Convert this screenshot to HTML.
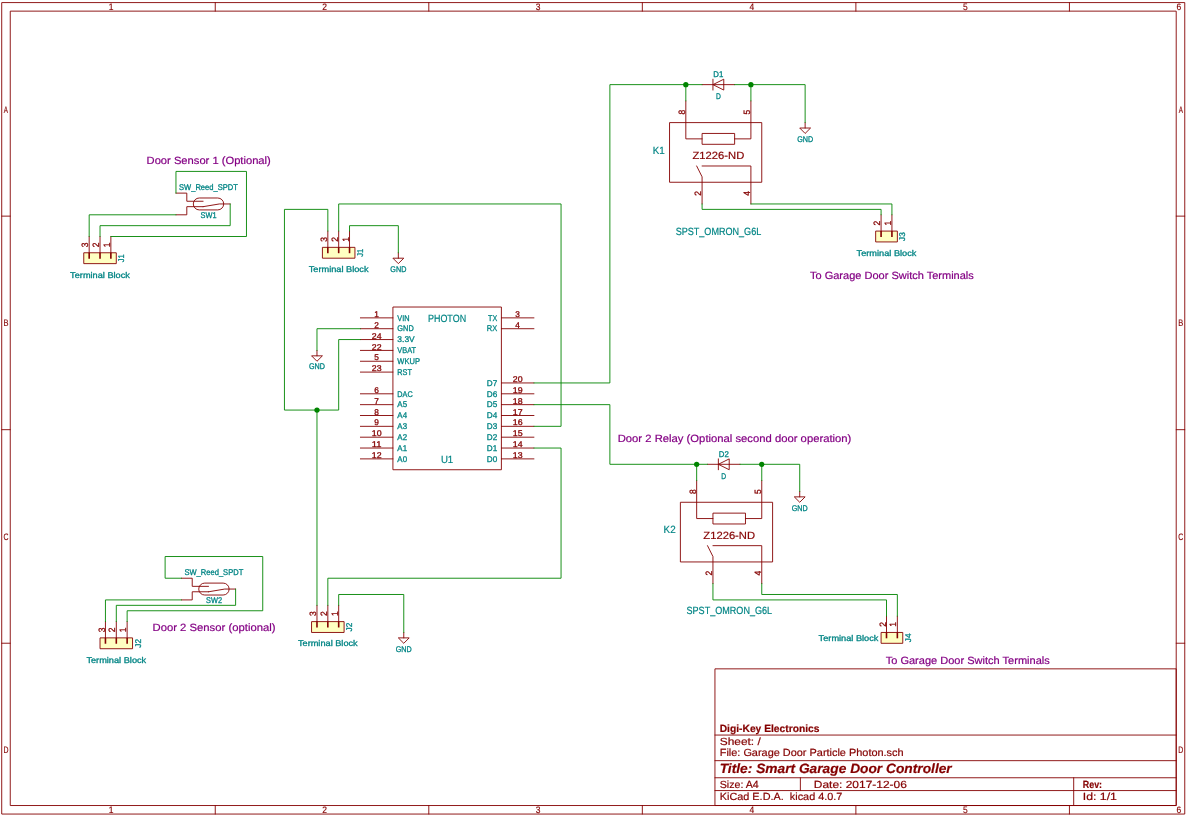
<!DOCTYPE html>
<html lang="en"><head><meta charset="utf-8"><title>Smart Garage Door Controller - schematic</title>
<style>
html,body{margin:0;padding:0;background:#fff;}
body{width:1186px;height:817px;overflow:hidden;}
svg{display:block;will-change:transform;font-family:"Liberation Sans",sans-serif;}
text{white-space:pre;stroke-linejoin:round;text-rendering:geometricPrecision}
.s{fill:none;stroke:#840000;stroke-width:0.9;stroke-linecap:round;stroke-linejoin:round}
.r{fill:none;stroke:#840000;stroke-width:0.9;stroke-linejoin:round}
.sf{fill:#ffffc2;stroke:#840000;stroke-width:0.9;stroke-linejoin:round}
.tk{fill:none;stroke:#840000;stroke-width:1.6}
.w{fill:none;stroke:#008400;stroke-width:0.9;stroke-linecap:round;stroke-linejoin:round}
.j{fill:#008400}
.b{font-weight:bold}
.bi{font-weight:bold;font-style:italic}
.i{font-style:italic}
</style></head><body>
<svg width="1186" height="817" viewBox="0 0 1186 817">
<rect width="1186" height="817" fill="#fff"/>
<g id="sheet">
<g id="frame">
<rect class="r" x="1.71" y="2.59" width="1183.04" height="811.47"/>
<rect class="r" x="10.25" y="11.13" width="1165.96" height="794.39"/>
<path class="s" d="M215.25 2.59 L215.25 11.13"/>
<path class="s" d="M215.25 805.52 L215.25 814.06"/>
<path class="s" d="M428.8 2.59 L428.8 11.13"/>
<path class="s" d="M428.8 805.52 L428.8 814.06"/>
<path class="s" d="M642.34 2.59 L642.34 11.13"/>
<path class="s" d="M642.34 805.52 L642.34 814.06"/>
<path class="s" d="M855.89 2.59 L855.89 11.13"/>
<path class="s" d="M855.89 805.52 L855.89 814.06"/>
<path class="s" d="M1069.43 2.59 L1069.43 11.13"/>
<path class="s" d="M1069.43 805.52 L1069.43 814.06"/>
<path class="s" d="M1.71 216.13 L10.25 216.13"/>
<path class="s" d="M1176.21 216.13 L1184.75 216.13"/>
<path class="s" d="M1.71 429.68 L10.25 429.68"/>
<path class="s" d="M1176.21 429.68 L1184.75 429.68"/>
<path class="s" d="M1.71 643.22 L10.25 643.22"/>
<path class="s" d="M1176.21 643.22 L1184.75 643.22"/>
<text x="108.78" y="10.04" font-size="9.38" textLength="4.73" lengthAdjust="spacingAndGlyphs" fill="#840000" stroke="#840000" stroke-width="0.15">1</text>
<text x="108.78" y="812.97" font-size="9.38" textLength="4.73" lengthAdjust="spacingAndGlyphs" fill="#840000" stroke="#840000" stroke-width="0.15">1</text>
<text x="322.33" y="10.04" font-size="9.38" textLength="4.73" lengthAdjust="spacingAndGlyphs" fill="#840000" stroke="#840000" stroke-width="0.15">2</text>
<text x="322.33" y="812.97" font-size="9.38" textLength="4.73" lengthAdjust="spacingAndGlyphs" fill="#840000" stroke="#840000" stroke-width="0.15">2</text>
<text x="535.87" y="10.04" font-size="9.38" textLength="4.73" lengthAdjust="spacingAndGlyphs" fill="#840000" stroke="#840000" stroke-width="0.15">3</text>
<text x="535.87" y="812.97" font-size="9.38" textLength="4.73" lengthAdjust="spacingAndGlyphs" fill="#840000" stroke="#840000" stroke-width="0.15">3</text>
<text x="749.42" y="10.04" font-size="9.38" textLength="4.73" lengthAdjust="spacingAndGlyphs" fill="#840000" stroke="#840000" stroke-width="0.15">4</text>
<text x="749.42" y="812.97" font-size="9.38" textLength="4.73" lengthAdjust="spacingAndGlyphs" fill="#840000" stroke="#840000" stroke-width="0.15">4</text>
<text x="962.96" y="10.04" font-size="9.38" textLength="4.73" lengthAdjust="spacingAndGlyphs" fill="#840000" stroke="#840000" stroke-width="0.15">5</text>
<text x="962.96" y="812.97" font-size="9.38" textLength="4.73" lengthAdjust="spacingAndGlyphs" fill="#840000" stroke="#840000" stroke-width="0.15">5</text>
<text x="1176.51" y="10.04" font-size="9.38" textLength="4.73" lengthAdjust="spacingAndGlyphs" fill="#840000" stroke="#840000" stroke-width="0.15">6</text>
<text x="1176.51" y="812.97" font-size="9.38" textLength="4.73" lengthAdjust="spacingAndGlyphs" fill="#840000" stroke="#840000" stroke-width="0.15">6</text>
<text x="3.78" y="112.54" font-size="9.38" textLength="4.2" lengthAdjust="spacingAndGlyphs" fill="#840000" stroke="#840000" stroke-width="0.15">A</text>
<text x="1178.68" y="112.54" font-size="9.38" textLength="4.2" lengthAdjust="spacingAndGlyphs" fill="#840000" stroke="#840000" stroke-width="0.15">A</text>
<text x="3.38" y="326.08" font-size="9.38" textLength="5" lengthAdjust="spacingAndGlyphs" fill="#840000" stroke="#840000" stroke-width="0.15">B</text>
<text x="1178.28" y="326.08" font-size="9.38" textLength="5" lengthAdjust="spacingAndGlyphs" fill="#840000" stroke="#840000" stroke-width="0.15">B</text>
<text x="3.38" y="539.63" font-size="9.38" textLength="5" lengthAdjust="spacingAndGlyphs" fill="#840000" stroke="#840000" stroke-width="0.15">C</text>
<text x="1178.28" y="539.63" font-size="9.38" textLength="5" lengthAdjust="spacingAndGlyphs" fill="#840000" stroke="#840000" stroke-width="0.15">C</text>
<text x="3.38" y="753.17" font-size="9.38" textLength="5" lengthAdjust="spacingAndGlyphs" fill="#840000" stroke="#840000" stroke-width="0.15">D</text>
<text x="1178.28" y="753.17" font-size="9.38" textLength="5" lengthAdjust="spacingAndGlyphs" fill="#840000" stroke="#840000" stroke-width="0.15">D</text>
<rect class="r" x="714.95" y="668.85" width="461.26" height="136.67"/>
<path class="s" d="M714.95 790.57 L1176.21 790.57"/>
<path class="s" d="M714.95 777.76 L1176.21 777.76"/>
<path class="s" d="M714.95 760.67 L1176.21 760.67"/>
<path class="s" d="M714.95 735.05 L1176.21 735.05"/>
<path class="s" d="M800.37 777.76 L800.37 790.57"/>
<path class="s" d="M1073.7 777.76 L1073.7 805.52"/>
<text x="719.72" y="731.87" font-size="10.4" textLength="99.7" lengthAdjust="spacingAndGlyphs" fill="#840000" stroke="#840000" stroke-width="0.2" class="b">Digi-Key Electronics</text>
<text x="719.72" y="744.68" font-size="10.4" textLength="41" lengthAdjust="spacingAndGlyphs" fill="#840000" stroke="#840000" stroke-width="0.2">Sheet: /</text>
<text x="719.72" y="756.21" font-size="10.4" textLength="183.9" lengthAdjust="spacingAndGlyphs" fill="#840000" stroke="#840000" stroke-width="0.2">File: Garage Door Particle Photon.sch</text>
<text x="719.72" y="772.66" font-size="13.51" textLength="232" lengthAdjust="spacingAndGlyphs" fill="#840000" stroke="#840000" stroke-width="0.2" class="bi">Title: Smart Garage Door Controller</text>
<text x="719.72" y="787.82" font-size="10.4" textLength="39" lengthAdjust="spacingAndGlyphs" fill="#840000" stroke="#840000" stroke-width="0.2">Size: A4</text>
<text x="813.78" y="787.82" font-size="10.4" textLength="93.1" lengthAdjust="spacingAndGlyphs" fill="#840000" stroke="#840000" stroke-width="0.2">Date: 2017-12-06</text>
<text x="719.72" y="799.78" font-size="10.4" textLength="122.7" lengthAdjust="spacingAndGlyphs" fill="#840000" stroke="#840000" stroke-width="0.2">KiCad E.D.A.  kicad 4.0.7</text>
<text x="1082.75" y="787.82" font-size="10.4" textLength="19.3" lengthAdjust="spacingAndGlyphs" fill="#840000" stroke="#840000" stroke-width="0.2" class="b">Rev:</text>
<text x="1082.75" y="799.78" font-size="10.4" textLength="34.2" lengthAdjust="spacingAndGlyphs" fill="#840000" stroke="#840000" stroke-width="0.2">Id: 1/1</text>
</g>
<g id="parts">
<rect class="sf" x="83.75" y="252.78" width="32.54" height="10.85"/>
<path class="s" d="M89.18 236.5 L89.18 252.78"/>
<path class="tk" d="M89.18 252.78 L89.18 258.63"/>
<text transform="translate(85.08 244.84) rotate(-90)" x="-2.35" y="3.16" font-size="9.19" textLength="4.7" lengthAdjust="spacingAndGlyphs" fill="#840000" stroke="#840000" stroke-width="0.3">3</text>
<path class="s" d="M100.02 236.5 L100.02 252.78"/>
<path class="tk" d="M100.02 252.78 L100.02 258.63"/>
<text transform="translate(95.92 244.84) rotate(-90)" x="-2.35" y="3.16" font-size="9.19" textLength="4.7" lengthAdjust="spacingAndGlyphs" fill="#840000" stroke="#840000" stroke-width="0.3">2</text>
<path class="s" d="M110.87 236.5 L110.87 252.78"/>
<path class="tk" d="M110.87 252.78 L110.87 258.63"/>
<text transform="translate(106.77 244.84) rotate(-90)" x="-2.35" y="3.16" font-size="9.19" textLength="4.7" lengthAdjust="spacingAndGlyphs" fill="#840000" stroke="#840000" stroke-width="0.3">1</text>
<text transform="translate(121.52 258.2) rotate(-90)" x="-4" y="2.86" font-size="8.32" textLength="8" lengthAdjust="spacingAndGlyphs" fill="#008484" stroke="#008484" stroke-width="0.3">J1</text>
<text x="70.12" y="277.63" font-size="8.32" textLength="59.8" lengthAdjust="spacingAndGlyphs" fill="#008484" stroke="#008484" stroke-width="0.3">Terminal Block</text>
<rect class="sf" x="322.41" y="247.35" width="32.54" height="10.85"/>
<path class="s" d="M327.83 231.08 L327.83 247.35"/>
<path class="tk" d="M327.83 247.35 L327.83 253.21"/>
<text transform="translate(323.73 239.42) rotate(-90)" x="-2.35" y="3.16" font-size="9.19" textLength="4.7" lengthAdjust="spacingAndGlyphs" fill="#840000" stroke="#840000" stroke-width="0.3">3</text>
<path class="s" d="M338.68 231.08 L338.68 247.35"/>
<path class="tk" d="M338.68 247.35 L338.68 253.21"/>
<text transform="translate(334.58 239.42) rotate(-90)" x="-2.35" y="3.16" font-size="9.19" textLength="4.7" lengthAdjust="spacingAndGlyphs" fill="#840000" stroke="#840000" stroke-width="0.3">2</text>
<path class="s" d="M349.53 231.08 L349.53 247.35"/>
<path class="tk" d="M349.53 247.35 L349.53 253.21"/>
<text transform="translate(345.43 239.42) rotate(-90)" x="-2.35" y="3.16" font-size="9.19" textLength="4.7" lengthAdjust="spacingAndGlyphs" fill="#840000" stroke="#840000" stroke-width="0.3">1</text>
<text transform="translate(360.18 252.78) rotate(-90)" x="-4" y="2.86" font-size="8.32" textLength="8" lengthAdjust="spacingAndGlyphs" fill="#008484" stroke="#008484" stroke-width="0.3">J1</text>
<text x="308.78" y="272.21" font-size="8.32" textLength="59.8" lengthAdjust="spacingAndGlyphs" fill="#008484" stroke="#008484" stroke-width="0.3">Terminal Block</text>
<rect class="sf" x="100.02" y="637.88" width="32.54" height="10.85"/>
<path class="s" d="M105.45 621.61 L105.45 637.88"/>
<path class="tk" d="M105.45 637.88 L105.45 643.74"/>
<text transform="translate(101.35 629.94) rotate(-90)" x="-2.35" y="3.16" font-size="9.19" textLength="4.7" lengthAdjust="spacingAndGlyphs" fill="#840000" stroke="#840000" stroke-width="0.3">3</text>
<path class="s" d="M116.3 621.61 L116.3 637.88"/>
<path class="tk" d="M116.3 637.88 L116.3 643.74"/>
<text transform="translate(112.2 629.94) rotate(-90)" x="-2.35" y="3.16" font-size="9.19" textLength="4.7" lengthAdjust="spacingAndGlyphs" fill="#840000" stroke="#840000" stroke-width="0.3">2</text>
<path class="s" d="M127.14 621.61 L127.14 637.88"/>
<path class="tk" d="M127.14 637.88 L127.14 643.74"/>
<text transform="translate(123.04 629.94) rotate(-90)" x="-2.35" y="3.16" font-size="9.19" textLength="4.7" lengthAdjust="spacingAndGlyphs" fill="#840000" stroke="#840000" stroke-width="0.3">1</text>
<text transform="translate(137.79 643.3) rotate(-90)" x="-4.4" y="2.86" font-size="8.32" textLength="8.8" lengthAdjust="spacingAndGlyphs" fill="#008484" stroke="#008484" stroke-width="0.3">J2</text>
<text x="86.4" y="662.74" font-size="8.32" textLength="59.8" lengthAdjust="spacingAndGlyphs" fill="#008484" stroke="#008484" stroke-width="0.3">Terminal Block</text>
<rect class="sf" x="311.56" y="621.61" width="32.54" height="10.85"/>
<path class="s" d="M316.98 605.34 L316.98 621.61"/>
<path class="tk" d="M316.98 621.61 L316.98 627.47"/>
<text transform="translate(312.88 613.67) rotate(-90)" x="-2.35" y="3.16" font-size="9.19" textLength="4.7" lengthAdjust="spacingAndGlyphs" fill="#840000" stroke="#840000" stroke-width="0.3">3</text>
<path class="s" d="M327.83 605.34 L327.83 621.61"/>
<path class="tk" d="M327.83 621.61 L327.83 627.47"/>
<text transform="translate(323.73 613.67) rotate(-90)" x="-2.35" y="3.16" font-size="9.19" textLength="4.7" lengthAdjust="spacingAndGlyphs" fill="#840000" stroke="#840000" stroke-width="0.3">2</text>
<path class="s" d="M338.68 605.34 L338.68 621.61"/>
<path class="tk" d="M338.68 621.61 L338.68 627.47"/>
<text transform="translate(334.58 613.67) rotate(-90)" x="-2.35" y="3.16" font-size="9.19" textLength="4.7" lengthAdjust="spacingAndGlyphs" fill="#840000" stroke="#840000" stroke-width="0.3">1</text>
<text transform="translate(349.33 627.03) rotate(-90)" x="-4.4" y="2.86" font-size="8.32" textLength="8.8" lengthAdjust="spacingAndGlyphs" fill="#008484" stroke="#008484" stroke-width="0.3">J2</text>
<text x="297.93" y="646.47" font-size="8.32" textLength="59.8" lengthAdjust="spacingAndGlyphs" fill="#008484" stroke="#008484" stroke-width="0.3">Terminal Block</text>
<rect class="sf" x="875.66" y="231.08" width="21.7" height="10.85"/>
<path class="s" d="M881.08 214.81 L881.08 231.08"/>
<path class="tk" d="M881.08 231.08 L881.08 236.94"/>
<text transform="translate(876.98 223.14) rotate(-90)" x="-2.35" y="3.16" font-size="9.19" textLength="4.7" lengthAdjust="spacingAndGlyphs" fill="#840000" stroke="#840000" stroke-width="0.3">2</text>
<path class="s" d="M891.93 214.81 L891.93 231.08"/>
<path class="tk" d="M891.93 231.08 L891.93 236.94"/>
<text transform="translate(887.83 223.14) rotate(-90)" x="-2.35" y="3.16" font-size="9.19" textLength="4.7" lengthAdjust="spacingAndGlyphs" fill="#840000" stroke="#840000" stroke-width="0.3">1</text>
<text transform="translate(902.58 236.5) rotate(-90)" x="-4.4" y="2.86" font-size="8.32" textLength="8.8" lengthAdjust="spacingAndGlyphs" fill="#008484" stroke="#008484" stroke-width="0.3">J3</text>
<text x="856.6" y="255.94" font-size="8.32" textLength="59.8" lengthAdjust="spacingAndGlyphs" fill="#008484" stroke="#008484" stroke-width="0.3">Terminal Block</text>
<rect class="sf" x="881.08" y="632.46" width="21.7" height="10.85"/>
<path class="s" d="M886.5 616.18 L886.5 632.46"/>
<path class="tk" d="M886.5 632.46 L886.5 638.31"/>
<text transform="translate(882.4 624.52) rotate(-90)" x="-2.35" y="3.16" font-size="9.19" textLength="4.7" lengthAdjust="spacingAndGlyphs" fill="#840000" stroke="#840000" stroke-width="0.3">2</text>
<path class="s" d="M897.35 616.18 L897.35 632.46"/>
<path class="tk" d="M897.35 632.46 L897.35 638.31"/>
<text transform="translate(893.25 624.52) rotate(-90)" x="-2.35" y="3.16" font-size="9.19" textLength="4.7" lengthAdjust="spacingAndGlyphs" fill="#840000" stroke="#840000" stroke-width="0.3">1</text>
<text transform="translate(908 637.88) rotate(-90)" x="-4.4" y="2.86" font-size="8.32" textLength="8.8" lengthAdjust="spacingAndGlyphs" fill="#008484" stroke="#008484" stroke-width="0.3">J4</text>
<text x="818.64" y="641.04" font-size="8.32" textLength="59.8" lengthAdjust="spacingAndGlyphs" fill="#008484" stroke="#008484" stroke-width="0.3">Terminal Block</text>
<path class="s" d="M398.34 252.78 L398.34 258.2"/>
<path class="r" d="M392.92 258.2 L403.77 258.2 L398.34 263.62 Z"/>
<text x="390.35" y="271.86" font-size="8.32" textLength="15.99" lengthAdjust="spacingAndGlyphs" fill="#008484" stroke="#008484" stroke-width="0.3">GND</text>
<path class="s" d="M316.98 350.41 L316.98 355.83"/>
<path class="r" d="M311.56 355.83 L322.41 355.83 L316.98 361.26 Z"/>
<text x="308.99" y="369.49" font-size="8.32" textLength="15.99" lengthAdjust="spacingAndGlyphs" fill="#008484" stroke="#008484" stroke-width="0.3">GND</text>
<path class="s" d="M805.14 122.6 L805.14 128.02"/>
<path class="r" d="M799.72 128.02 L810.57 128.02 L805.14 133.45 Z"/>
<text x="797.15" y="141.68" font-size="8.32" textLength="15.99" lengthAdjust="spacingAndGlyphs" fill="#008484" stroke="#008484" stroke-width="0.3">GND</text>
<path class="s" d="M799.72 491.43 L799.72 496.86"/>
<path class="r" d="M794.3 496.86 L805.14 496.86 L799.72 502.28 Z"/>
<text x="791.73" y="510.52" font-size="8.32" textLength="15.99" lengthAdjust="spacingAndGlyphs" fill="#008484" stroke="#008484" stroke-width="0.3">GND</text>
<path class="s" d="M403.77 632.46 L403.77 637.88"/>
<path class="r" d="M398.34 637.88 L409.19 637.88 L403.77 643.3 Z"/>
<text x="395.77" y="651.54" font-size="8.32" textLength="15.99" lengthAdjust="spacingAndGlyphs" fill="#008484" stroke="#008484" stroke-width="0.3">GND</text>
<path class="s" d="M175.96 193.11 L186.81 193.11 L186.81 201.25 L203.08 201.25"/>
<path class="s" d="M175.96 214.81 L186.81 214.81 L186.81 206.67 L203.08 206.67"/>
<path class="s" d="M230.2 203.96 L219.35 203.96 L203.08 206.67"/>
<rect class="r" x="193.32" y="197.99" width="30.37" height="11.93" rx="5.97" ry="5.97"/>
<text x="179.02" y="190.3" font-size="8.32" textLength="58.86" lengthAdjust="spacingAndGlyphs" fill="#008484" stroke="#008484" stroke-width="0.3">SW_Reed_SPDT</text>
<text x="200.61" y="217.72" font-size="8.32" textLength="15.99" lengthAdjust="spacingAndGlyphs" fill="#008484" stroke="#008484" stroke-width="0.3">SW1</text>
<path class="s" d="M181.38 578.22 L192.23 578.22 L192.23 586.35 L208.5 586.35"/>
<path class="s" d="M181.38 599.91 L192.23 599.91 L192.23 591.78 L208.5 591.78"/>
<path class="s" d="M235.62 589.06 L224.78 589.06 L208.5 591.78"/>
<rect class="r" x="198.74" y="583.1" width="30.37" height="11.93" rx="5.97" ry="5.97"/>
<text x="184.45" y="575.4" font-size="8.32" textLength="58.86" lengthAdjust="spacingAndGlyphs" fill="#008484" stroke="#008484" stroke-width="0.3">SW_Reed_SPDT</text>
<text x="206.03" y="602.82" font-size="8.32" textLength="15.99" lengthAdjust="spacingAndGlyphs" fill="#008484" stroke="#008484" stroke-width="0.3">SW2</text>
<path class="s" d="M702.09 84.63 L734.63 84.63"/>
<path class="s" d="M712.94 79.21 L712.94 90.06"/>
<path class="r" d="M723.78 79.21 L723.78 90.06 L712.94 84.63 Z"/>
<text x="713.34" y="76.9" font-size="8.32" textLength="10.05" lengthAdjust="spacingAndGlyphs" fill="#008484" stroke="#008484" stroke-width="0.3">D1</text>
<text x="715.92" y="98.89" font-size="8.32" textLength="4.88" lengthAdjust="spacingAndGlyphs" fill="#008484" stroke="#008484" stroke-width="0.3">D</text>
<path class="s" d="M707.51 464.31 L740.06 464.31"/>
<path class="s" d="M718.36 458.89 L718.36 469.74"/>
<path class="r" d="M729.21 458.89 L729.21 469.74 L718.36 464.31 Z"/>
<text x="718.76" y="456.58" font-size="8.32" textLength="10.05" lengthAdjust="spacingAndGlyphs" fill="#008484" stroke="#008484" stroke-width="0.3">D2</text>
<text x="721.34" y="478.57" font-size="8.32" textLength="4.88" lengthAdjust="spacingAndGlyphs" fill="#008484" stroke="#008484" stroke-width="0.3">D</text>
<rect class="r" x="669.54" y="122.6" width="92.21" height="59.66"/>
<path class="s" d="M685.82 100.9 L685.82 138.87 L702.09 138.87"/>
<path class="s" d="M750.9 100.9 L750.9 138.87 L734.63 138.87"/>
<rect class="r" x="702.09" y="133.45" width="32.54" height="10.85"/>
<path class="s" d="M702.09 203.96 L702.09 176.84 L696.66 165.99"/>
<path class="s" d="M702.09 165.99 L750.9 165.99 L750.9 203.96"/>
<text transform="translate(682.02 112.05) rotate(-90)" x="-2.35" y="3.16" font-size="9.19" textLength="4.7" lengthAdjust="spacingAndGlyphs" fill="#840000" stroke="#840000" stroke-width="0.3">8</text>
<text transform="translate(747.1 112.05) rotate(-90)" x="-2.35" y="3.16" font-size="9.19" textLength="4.7" lengthAdjust="spacingAndGlyphs" fill="#840000" stroke="#840000" stroke-width="0.3">5</text>
<text transform="translate(698.29 193.41) rotate(-90)" x="-2.35" y="3.16" font-size="9.19" textLength="4.7" lengthAdjust="spacingAndGlyphs" fill="#840000" stroke="#840000" stroke-width="0.3">2</text>
<text transform="translate(747.1 193.41) rotate(-90)" x="-2.35" y="3.16" font-size="9.19" textLength="4.7" lengthAdjust="spacingAndGlyphs" fill="#840000" stroke="#840000" stroke-width="0.3">4</text>
<text x="692.5" y="159.17" font-size="10.55" textLength="51.73" lengthAdjust="spacingAndGlyphs" fill="#840000" stroke="#840000" stroke-width="0.2">Z1226-ND</text>
<text x="652.77" y="153.8" font-size="10.55" textLength="12.06" lengthAdjust="spacingAndGlyphs" fill="#008484" stroke="#008484" stroke-width="0.2">K1</text>
<text x="675.7" y="234.76" font-size="10.55" textLength="85.51" lengthAdjust="spacingAndGlyphs" fill="#008484" stroke="#008484" stroke-width="0.2">SPST_OMRON_G6L</text>
<rect class="r" x="680.39" y="502.28" width="92.21" height="59.66"/>
<path class="s" d="M696.66 480.58 L696.66 518.55 L712.94 518.55"/>
<path class="s" d="M761.75 480.58 L761.75 518.55 L745.48 518.55"/>
<rect class="r" x="712.94" y="513.13" width="32.54" height="10.85"/>
<path class="s" d="M712.94 583.64 L712.94 556.52 L707.51 545.67"/>
<path class="s" d="M712.94 545.67 L761.75 545.67 L761.75 583.64"/>
<text transform="translate(692.86 491.73) rotate(-90)" x="-2.35" y="3.16" font-size="9.19" textLength="4.7" lengthAdjust="spacingAndGlyphs" fill="#840000" stroke="#840000" stroke-width="0.3">8</text>
<text transform="translate(757.95 491.73) rotate(-90)" x="-2.35" y="3.16" font-size="9.19" textLength="4.7" lengthAdjust="spacingAndGlyphs" fill="#840000" stroke="#840000" stroke-width="0.3">5</text>
<text transform="translate(709.14 573.09) rotate(-90)" x="-2.35" y="3.16" font-size="9.19" textLength="4.7" lengthAdjust="spacingAndGlyphs" fill="#840000" stroke="#840000" stroke-width="0.3">2</text>
<text transform="translate(757.95 573.09) rotate(-90)" x="-2.35" y="3.16" font-size="9.19" textLength="4.7" lengthAdjust="spacingAndGlyphs" fill="#840000" stroke="#840000" stroke-width="0.3">4</text>
<text x="703.34" y="538.85" font-size="10.55" textLength="51.73" lengthAdjust="spacingAndGlyphs" fill="#840000" stroke="#840000" stroke-width="0.2">Z1226-ND</text>
<text x="663.62" y="533.48" font-size="10.55" textLength="12.06" lengthAdjust="spacingAndGlyphs" fill="#008484" stroke="#008484" stroke-width="0.2">K2</text>
<text x="686.55" y="614.44" font-size="10.55" textLength="85.51" lengthAdjust="spacingAndGlyphs" fill="#008484" stroke="#008484" stroke-width="0.2">SPST_OMRON_G6L</text>
<rect class="r" x="392.92" y="307.02" width="108.48" height="162.72"/>
<path class="s" d="M360.38 317.86 L392.92 317.86"/>
<text x="397.36" y="320.63" font-size="8.32" textLength="12.26" lengthAdjust="spacingAndGlyphs" fill="#008484" stroke="#008484" stroke-width="0.3">VIN</text>
<text x="374.34" y="316.96" font-size="8.32" textLength="4.62" lengthAdjust="spacingAndGlyphs" fill="#840000" stroke="#840000" stroke-width="0.3">1</text>
<path class="s" d="M360.38 328.71 L392.92 328.71"/>
<text x="397.36" y="331.47" font-size="8.32" textLength="16.39" lengthAdjust="spacingAndGlyphs" fill="#008484" stroke="#008484" stroke-width="0.3">GND</text>
<text x="374.34" y="327.81" font-size="8.32" textLength="4.62" lengthAdjust="spacingAndGlyphs" fill="#840000" stroke="#840000" stroke-width="0.3">2</text>
<path class="s" d="M360.38 339.56 L392.92 339.56"/>
<text x="397.36" y="342.32" font-size="8.32" textLength="17.42" lengthAdjust="spacingAndGlyphs" fill="#008484" stroke="#008484" stroke-width="0.3">3.3V</text>
<text x="371.75" y="338.66" font-size="8.32" textLength="9.79" lengthAdjust="spacingAndGlyphs" fill="#840000" stroke="#840000" stroke-width="0.3">24</text>
<path class="s" d="M360.38 350.41 L392.92 350.41"/>
<text x="397.36" y="353.17" font-size="8.32" textLength="18.71" lengthAdjust="spacingAndGlyphs" fill="#008484" stroke="#008484" stroke-width="0.3">VBAT</text>
<text x="371.75" y="349.51" font-size="8.32" textLength="9.79" lengthAdjust="spacingAndGlyphs" fill="#840000" stroke="#840000" stroke-width="0.3">22</text>
<path class="s" d="M360.38 361.26 L392.92 361.26"/>
<text x="397.36" y="364.02" font-size="8.32" textLength="22.59" lengthAdjust="spacingAndGlyphs" fill="#008484" stroke="#008484" stroke-width="0.3">WKUP</text>
<text x="374.34" y="360.36" font-size="8.32" textLength="4.62" lengthAdjust="spacingAndGlyphs" fill="#840000" stroke="#840000" stroke-width="0.3">5</text>
<path class="s" d="M360.38 372.1 L392.92 372.1"/>
<text x="397.36" y="374.87" font-size="8.32" textLength="14.58" lengthAdjust="spacingAndGlyphs" fill="#008484" stroke="#008484" stroke-width="0.3">RST</text>
<text x="371.75" y="371.2" font-size="8.32" textLength="9.79" lengthAdjust="spacingAndGlyphs" fill="#840000" stroke="#840000" stroke-width="0.3">23</text>
<path class="s" d="M360.38 393.8 L392.92 393.8"/>
<text x="397.36" y="396.56" font-size="8.32" textLength="15.35" lengthAdjust="spacingAndGlyphs" fill="#008484" stroke="#008484" stroke-width="0.3">DAC</text>
<text x="374.34" y="392.9" font-size="8.32" textLength="4.62" lengthAdjust="spacingAndGlyphs" fill="#840000" stroke="#840000" stroke-width="0.3">6</text>
<path class="s" d="M360.38 404.65 L392.92 404.65"/>
<text x="397.36" y="407.41" font-size="8.32" textLength="9.67" lengthAdjust="spacingAndGlyphs" fill="#008484" stroke="#008484" stroke-width="0.3">A5</text>
<text x="374.34" y="403.75" font-size="8.32" textLength="4.62" lengthAdjust="spacingAndGlyphs" fill="#840000" stroke="#840000" stroke-width="0.3">7</text>
<path class="s" d="M360.38 415.5 L392.92 415.5"/>
<text x="397.36" y="418.26" font-size="8.32" textLength="9.67" lengthAdjust="spacingAndGlyphs" fill="#008484" stroke="#008484" stroke-width="0.3">A4</text>
<text x="374.34" y="414.6" font-size="8.32" textLength="4.62" lengthAdjust="spacingAndGlyphs" fill="#840000" stroke="#840000" stroke-width="0.3">8</text>
<path class="s" d="M360.38 426.34 L392.92 426.34"/>
<text x="397.36" y="429.11" font-size="8.32" textLength="9.67" lengthAdjust="spacingAndGlyphs" fill="#008484" stroke="#008484" stroke-width="0.3">A3</text>
<text x="374.34" y="425.44" font-size="8.32" textLength="4.62" lengthAdjust="spacingAndGlyphs" fill="#840000" stroke="#840000" stroke-width="0.3">9</text>
<path class="s" d="M360.38 437.19 L392.92 437.19"/>
<text x="397.36" y="439.95" font-size="8.32" textLength="9.67" lengthAdjust="spacingAndGlyphs" fill="#008484" stroke="#008484" stroke-width="0.3">A2</text>
<text x="371.75" y="436.29" font-size="8.32" textLength="9.79" lengthAdjust="spacingAndGlyphs" fill="#840000" stroke="#840000" stroke-width="0.3">10</text>
<path class="s" d="M360.38 448.04 L392.92 448.04"/>
<text x="397.36" y="450.8" font-size="8.32" textLength="9.67" lengthAdjust="spacingAndGlyphs" fill="#008484" stroke="#008484" stroke-width="0.3">A1</text>
<text x="371.75" y="447.14" font-size="8.32" textLength="9.79" lengthAdjust="spacingAndGlyphs" fill="#840000" stroke="#840000" stroke-width="0.3">11</text>
<path class="s" d="M360.38 458.89 L392.92 458.89"/>
<text x="397.36" y="461.65" font-size="8.32" textLength="9.67" lengthAdjust="spacingAndGlyphs" fill="#008484" stroke="#008484" stroke-width="0.3">A0</text>
<text x="371.75" y="457.99" font-size="8.32" textLength="9.79" lengthAdjust="spacingAndGlyphs" fill="#840000" stroke="#840000" stroke-width="0.3">12</text>
<path class="s" d="M501.4 317.86 L533.94 317.86"/>
<text x="488.1" y="320.63" font-size="8.32" textLength="9.16" lengthAdjust="spacingAndGlyphs" fill="#008484" stroke="#008484" stroke-width="0.3">TX</text>
<text x="515.36" y="316.96" font-size="8.32" textLength="4.62" lengthAdjust="spacingAndGlyphs" fill="#840000" stroke="#840000" stroke-width="0.3">3</text>
<path class="s" d="M501.4 328.71 L533.94 328.71"/>
<text x="486.81" y="331.47" font-size="8.32" textLength="10.45" lengthAdjust="spacingAndGlyphs" fill="#008484" stroke="#008484" stroke-width="0.3">RX</text>
<text x="515.36" y="327.81" font-size="8.32" textLength="4.62" lengthAdjust="spacingAndGlyphs" fill="#840000" stroke="#840000" stroke-width="0.3">4</text>
<path class="s" d="M501.4 382.95 L533.94 382.95"/>
<text x="486.81" y="385.71" font-size="8.32" textLength="10.45" lengthAdjust="spacingAndGlyphs" fill="#008484" stroke="#008484" stroke-width="0.3">D7</text>
<text x="512.78" y="382.05" font-size="8.32" textLength="9.79" lengthAdjust="spacingAndGlyphs" fill="#840000" stroke="#840000" stroke-width="0.3">20</text>
<path class="s" d="M501.4 393.8 L533.94 393.8"/>
<text x="486.81" y="396.56" font-size="8.32" textLength="10.45" lengthAdjust="spacingAndGlyphs" fill="#008484" stroke="#008484" stroke-width="0.3">D6</text>
<text x="512.78" y="392.9" font-size="8.32" textLength="9.79" lengthAdjust="spacingAndGlyphs" fill="#840000" stroke="#840000" stroke-width="0.3">19</text>
<path class="s" d="M501.4 404.65 L533.94 404.65"/>
<text x="486.81" y="407.41" font-size="8.32" textLength="10.45" lengthAdjust="spacingAndGlyphs" fill="#008484" stroke="#008484" stroke-width="0.3">D5</text>
<text x="512.78" y="403.75" font-size="8.32" textLength="9.79" lengthAdjust="spacingAndGlyphs" fill="#840000" stroke="#840000" stroke-width="0.3">18</text>
<path class="s" d="M501.4 415.5 L533.94 415.5"/>
<text x="486.81" y="418.26" font-size="8.32" textLength="10.45" lengthAdjust="spacingAndGlyphs" fill="#008484" stroke="#008484" stroke-width="0.3">D4</text>
<text x="512.78" y="414.6" font-size="8.32" textLength="9.79" lengthAdjust="spacingAndGlyphs" fill="#840000" stroke="#840000" stroke-width="0.3">17</text>
<path class="s" d="M501.4 426.34 L533.94 426.34"/>
<text x="486.81" y="429.11" font-size="8.32" textLength="10.45" lengthAdjust="spacingAndGlyphs" fill="#008484" stroke="#008484" stroke-width="0.3">D3</text>
<text x="512.78" y="425.44" font-size="8.32" textLength="9.79" lengthAdjust="spacingAndGlyphs" fill="#840000" stroke="#840000" stroke-width="0.3">16</text>
<path class="s" d="M501.4 437.19 L533.94 437.19"/>
<text x="486.81" y="439.95" font-size="8.32" textLength="10.45" lengthAdjust="spacingAndGlyphs" fill="#008484" stroke="#008484" stroke-width="0.3">D2</text>
<text x="512.78" y="436.29" font-size="8.32" textLength="9.79" lengthAdjust="spacingAndGlyphs" fill="#840000" stroke="#840000" stroke-width="0.3">15</text>
<path class="s" d="M501.4 448.04 L533.94 448.04"/>
<text x="486.81" y="450.8" font-size="8.32" textLength="10.45" lengthAdjust="spacingAndGlyphs" fill="#008484" stroke="#008484" stroke-width="0.3">D1</text>
<text x="512.78" y="447.14" font-size="8.32" textLength="9.79" lengthAdjust="spacingAndGlyphs" fill="#840000" stroke="#840000" stroke-width="0.3">14</text>
<path class="s" d="M501.4 458.89 L533.94 458.89"/>
<text x="486.81" y="461.65" font-size="8.32" textLength="10.45" lengthAdjust="spacingAndGlyphs" fill="#008484" stroke="#008484" stroke-width="0.3">D0</text>
<text x="512.78" y="457.99" font-size="8.32" textLength="9.79" lengthAdjust="spacingAndGlyphs" fill="#840000" stroke="#840000" stroke-width="0.3">13</text>
<text x="428.01" y="321.79" font-size="10.55" textLength="38.09" lengthAdjust="spacingAndGlyphs" fill="#008484" stroke="#008484" stroke-width="0.2">PHOTON</text>
<text x="440.88" y="463.17" font-size="10.55" textLength="12.37" lengthAdjust="spacingAndGlyphs" fill="#008484" stroke="#008484" stroke-width="0.2">U1</text>
</g>
<g id="wires">
<path class="w" d="M89.18 236.5 L89.18 214.81 L175.96 214.81"/>
<path class="w" d="M100.02 236.5 L100.02 225.66 L230.2 225.66 L230.2 203.96"/>
<path class="w" d="M110.87 236.5 L246.47 236.5 L246.47 171.42 L175.96 171.42 L175.96 193.11"/>
<path class="w" d="M327.83 231.08 L327.83 209.38 L284.44 209.38 L284.44 410.07 L338.68 410.07 L338.68 339.56 L360.38 339.56"/>
<path class="w" d="M316.98 410.07 L316.98 605.34"/>
<path class="w" d="M338.68 231.08 L338.68 203.96 L561.06 203.96 L561.06 426.34 L533.94 426.34"/>
<path class="w" d="M349.53 231.08 L349.53 225.66 L398.34 225.66 L398.34 252.78"/>
<path class="w" d="M360.38 328.71 L316.98 328.71 L316.98 350.41"/>
<path class="w" d="M533.94 382.95 L609.88 382.95 L609.88 84.63 L702.09 84.63"/>
<path class="w" d="M734.63 84.63 L805.14 84.63 L805.14 122.6"/>
<path class="w" d="M685.82 84.63 L685.82 100.9"/>
<path class="w" d="M750.9 84.63 L750.9 100.9"/>
<path class="w" d="M533.94 404.65 L609.88 404.65 L609.88 464.31 L707.51 464.31"/>
<path class="w" d="M740.06 464.31 L799.72 464.31 L799.72 491.43"/>
<path class="w" d="M696.66 464.31 L696.66 480.58"/>
<path class="w" d="M761.75 464.31 L761.75 480.58"/>
<path class="w" d="M533.94 448.04 L561.06 448.04 L561.06 578.22 L327.83 578.22 L327.83 605.34"/>
<path class="w" d="M338.68 605.34 L338.68 594.49 L403.77 594.49 L403.77 632.46"/>
<path class="w" d="M702.09 203.96 L702.09 209.38 L881.08 209.38 L881.08 214.81"/>
<path class="w" d="M750.9 203.96 L891.93 203.96 L891.93 214.81"/>
<path class="w" d="M712.94 583.64 L712.94 599.91 L886.5 599.91 L886.5 616.18"/>
<path class="w" d="M761.75 583.64 L761.75 594.49 L897.35 594.49 L897.35 616.18"/>
<path class="w" d="M105.45 621.61 L105.45 599.91 L181.38 599.91"/>
<path class="w" d="M116.3 621.61 L116.3 605.34 L235.62 605.34 L235.62 589.06"/>
<path class="w" d="M127.14 621.61 L127.14 610.76 L262.74 610.76 L262.74 556.52 L165.11 556.52 L165.11 578.22 L181.38 578.22"/>
<circle class="j" cx="316.98" cy="410.07" r="2.65"/>
<circle class="j" cx="685.82" cy="84.63" r="2.65"/>
<circle class="j" cx="750.9" cy="84.63" r="2.65"/>
<circle class="j" cx="696.66" cy="464.31" r="2.65"/>
<circle class="j" cx="761.75" cy="464.31" r="2.65"/>
</g>
<g id="notes">
<text x="146.6" y="164.1" font-size="10.55" textLength="124.2" lengthAdjust="spacingAndGlyphs" fill="#840084" stroke="#840084" stroke-width="0.2">Door Sensor 1 (Optional)</text>
<text x="810" y="278.6" font-size="10.55" textLength="163.8" lengthAdjust="spacingAndGlyphs" fill="#840084" stroke="#840084" stroke-width="0.2">To Garage Door Switch Terminals</text>
<text x="617.7" y="441.5" font-size="10.55" textLength="233.7" lengthAdjust="spacingAndGlyphs" fill="#840084" stroke="#840084" stroke-width="0.2">Door 2 Relay (Optional second door operation)</text>
<text x="885.7" y="664" font-size="10.55" textLength="164.1" lengthAdjust="spacingAndGlyphs" fill="#840084" stroke="#840084" stroke-width="0.2">To Garage Door Switch Terminals</text>
<text x="152.5" y="630.6" font-size="10.55" textLength="123" lengthAdjust="spacingAndGlyphs" fill="#840084" stroke="#840084" stroke-width="0.2">Door 2 Sensor (optional)</text>
</g>
</g>
</svg>
</body></html>
